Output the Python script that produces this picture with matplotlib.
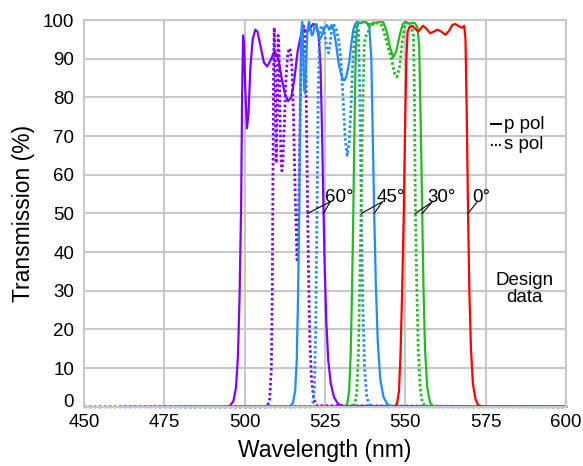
import numpy as np
import matplotlib
matplotlib.use("Agg")
import matplotlib.pyplot as plt

plt.rcParams['font.family'] = ['Liberation Sans', 'DejaVu Sans']

# angle of incidence 60 deg
wl_60p = [462, 494, 495.5, 496.5, 497.3, 497.9, 498.4, 498.9, 499.2, 499.5, 499.8, 500.2, 500.7,
          501.2, 501.8, 502.5, 503.3, 504.0, 505.0, 506.0, 507.0, 508.0, 509.3, 510.5, 511.5,
          512.5, 513.5, 514.5, 515.5, 516.5, 517.5, 518.5, 519.5, 520.5, 521.3, 522.2, 523.0,
          523.6, 524.1, 524.5, 524.9, 525.4, 526.0, 526.8, 527.8, 529.0, 530.5, 600]
t_60p = [0, 0, 0.3, 1.5, 5, 13, 28, 52, 80, 96, 94, 82, 72,
         76, 88, 95, 97.5, 97, 93, 89, 88, 89.5, 92, 90, 85,
         81, 79, 80, 85, 92, 96, 97.5, 97, 98, 99, 98.5, 96,
         88, 70, 52, 36, 22, 12, 6, 2.5, 0.8, 0.2, 0]

wl_60s = [450, 507.0, 507.8, 508.3, 508.6, 508.8, 509.0, 509.2, 509.5, 509.8, 510.1, 510.4, 510.7,
          511.0, 511.3, 511.6, 511.9, 512.3, 512.8, 513.4, 514.1, 514.7, 515.2, 515.7, 516.3,
          516.8, 517.3, 517.8, 518.3, 518.7, 519.0, 519.3, 519.6, 519.9, 520.3, 520.8, 521.5,
          522.5, 600]
t_60s = [0, 0, 2, 10, 30, 60, 88, 98, 85, 63, 75, 96, 92,
         76, 64, 61, 64, 72, 84, 91.5, 92.7, 88, 75, 55, 38,
         50, 78, 95, 98.5, 97, 90, 70, 50, 33, 17, 7, 2,
         0.3, 0]

# 45 deg
wl_45p = [473.5, 514.0, 515.0, 515.7, 516.2, 516.6, 517.0, 517.3, 517.6, 517.9, 518.2, 518.5, 518.8,
          519.1, 519.5, 520.0, 520.4, 520.9, 521.3, 521.8, 522.3, 522.8, 523.4, 524.0, 524.8,
          525.6, 526.3, 527.0, 527.7, 528.4, 529.2, 530.0, 530.6, 531.2, 531.8, 532.5, 533.2,
          533.8, 534.4, 535.0, 536.0, 537.0, 538.0, 538.8, 539.4, 539.9, 540.3, 540.8, 541.4,
          542.2, 543.2, 544.5, 546.0, 600]
t_45p = [0, 0, 1, 4, 12, 28, 52, 80, 97, 99.6, 93, 82, 81,
         88, 97, 99.6, 98, 96, 96.5, 98.5, 99, 97, 95, 96, 98,
         98.7, 97.5, 98.7, 97.5, 94, 89, 86, 84.5, 84.5, 86, 89, 94,
         97.5, 99, 99.5, 99.2, 99.5, 99.3, 98, 90, 68, 50, 32, 17,
         7, 2.5, 0.6, 0, 0]

wl_45s = [473.5, 520.5, 521.2, 521.7, 522.1, 522.5, 522.9, 523.3, 523.8, 524.4, 525.0, 525.6, 526.1,
          526.6, 527.2, 527.8, 528.5, 529.2, 529.9, 530.6, 531.3, 531.9, 532.5, 533.1, 533.7,
          534.3, 534.9, 535.4, 535.8, 536.1, 536.4, 536.8, 537.3, 538.0, 538.8, 540.0, 600]
t_45s = [0, 0, 1, 5, 20, 50, 82, 96, 98.5, 98, 96, 92.5, 91.5,
         94, 98.5, 98.7, 97.5, 95, 90, 80, 69, 65, 68, 78, 90,
         97, 99, 97.5, 82, 62, 44, 25, 10, 2.5, 0.5, 0, 0]

# 30 deg
wl_30p = [481, 531.0, 531.9, 532.5, 533.0, 533.4, 533.8, 534.2, 534.6, 535.0, 535.5, 536.5, 537.2,
          538.0, 539.0, 540.0, 541.0, 542.0, 543.1, 544.2, 545.2, 546.2, 547.2, 548.2, 549.2,
          550.0, 551.2, 552.0, 553.0, 553.8, 554.3, 554.8, 555.2, 555.6, 556.1, 556.8, 557.7,
          559.0, 600]
t_30p = [0, 0, 0.8, 4, 14, 30, 50, 75, 93, 98.5, 99.3, 99.3, 99.8,
         99.3, 98.8, 99.3, 99.3, 99.6, 99.5, 97, 93, 90.3, 92, 96, 99,
         99.6, 99, 99.3, 99.2, 98, 93, 72, 52, 32, 15, 5, 1,
         0, 0]

wl_30s = [481, 533.5, 534.3, 534.9, 535.4, 535.8, 536.2, 536.6, 537.2, 537.8, 538.3, 538.9, 539.5,
          540.5, 541.5, 542.5, 543.3, 544.6, 545.9, 546.7, 547.4, 548.2, 549.0, 549.8, 550.4,
          551.2, 551.9, 552.5, 552.8, 553.1, 553.5, 554.0, 554.6, 555.3, 556.5, 600]
t_30s = [0, 0, 0.8, 4, 14, 32, 50, 72, 94, 96, 96.5, 98.5, 99,
         98.7, 99.3, 98.8, 97, 93, 89, 86, 85.3, 88, 94, 98.5, 99.3,
         98.5, 98.3, 96, 82, 52, 33, 15, 5, 1, 0, 0]

# normal incidence, s and p coincide
wl_0 = [495.5, 546.5, 547.4, 548.0, 548.5, 549.0, 549.5, 549.9, 550.3, 550.7, 551.2, 552.2, 553.0,
        554.0, 555.0, 555.5, 556.5, 557.7, 558.8, 560.0, 561.2, 562.4, 563.6, 564.6, 565.5,
        566.5, 567.6, 568.3, 568.7, 569.1, 569.5, 569.9, 570.4, 571.0, 571.8, 572.6, 574.0, 600]
t_0 = [0, 0, 0.8, 4, 14, 30, 50, 72, 90, 97, 98, 98.5, 97.8,
       97, 98, 98.5, 97.8, 96.6, 97, 97.5, 97, 96.2, 97.2, 98.7, 99,
       98.5, 98, 98.5, 95, 75, 50, 30, 15, 6, 2, 0.5, 0, 0]

angle_labels = ['60°', '45°', '30°', '0°']
label_x = [525.0, 541.2, 556.75, 570.75]

purple = '#8000ff'
blue = '#1e8cff'
green = '#22bb22'
red = '#ff0000'
dots = (0, (0.9, 0.9))


def falling_half(wl, t):
    # wavelength where the long-wave edge crosses 50 %
    wl = np.asarray(wl, float)
    t = np.asarray(t, float)
    i = np.where((t[:-1] >= 50) & (t[1:] < 50))[0][-1]
    return wl[i] + (t[i] - 50) / (t[i] - t[i + 1]) * (wl[i + 1] - wl[i])


fig = plt.figure(figsize=(5.83, 4.66), dpi=100)
ax = fig.add_axes([0.144, 0.127, 0.827, 0.830])

lw = 1.6
lwd = 2.0
ax.plot(wl_60p, t_60p, color=purple, lw=lw, clip_on=False)
ax.plot(wl_60s, t_60s, color=purple, lw=lwd, ls=dots, clip_on=False)
ax.plot(wl_45s, t_45s, color=blue, lw=lwd, ls=dots, clip_on=False)
ax.plot(wl_45p, t_45p, color=blue, lw=lw, clip_on=False)
ax.plot(wl_30s, t_30s, color=green, lw=lwd, ls=dots, clip_on=False)
ax.plot(wl_30p, t_30p, color=green, lw=lw, clip_on=False)
ax.plot(wl_0, t_0, color=red, lw=lw, clip_on=False)

# angle labels with leaders to the 50 % points
targets = [
    [falling_half(wl_60s, t_60s), falling_half(wl_60p, t_60p)],
    [falling_half(wl_45s, t_45s), falling_half(wl_45p, t_45p)],
    [falling_half(wl_30s, t_30s), falling_half(wl_30p, t_30p)],
    [falling_half(wl_0, t_0)],
]
for lab, lx, ends in zip(angle_labels, label_x, targets):
    ax.text(lx, 52.9, lab, fontsize=13.5, ha='left', va='baseline', zorder=5)
    for xe in ends:
        ax.plot([lx + 1.6, xe], [53.0, 50], color='black', lw=0.8, zorder=5)

ax.set_xlim(450, 600)
ax.set_ylim(0, 100)
ax.set_xticks(np.arange(450, 601, 25))
ax.set_yticks(np.arange(0, 101, 10))
ax.grid(True, color='#c8c8c8', lw=1.5)
ax.set_axisbelow(True)
ax.tick_params(length=0, labelsize=13.5, colors='black')
ax.tick_params(axis='x', pad=5)
ax.tick_params(axis='y', pad=7)
for s in ax.spines.values():
    s.set_color('#c8c8c8')
    s.set_linewidth(1.5)

# lift the "0" so it clears the 450 below it
ax.get_yticklabels()[0].set_verticalalignment('baseline')

ax.set_xlabel('Wavelength (nm)', fontsize=16.5, labelpad=6)
ax.set_ylabel('Transmission (%)', fontsize=16.5, labelpad=6)

# polarisation key
tr = ax.transAxes
ax.plot([0.844, 0.866], [0.731, 0.731], color='black', lw=1.4, transform=tr, clip_on=False)
ax.plot([0.844, 0.866], [0.678, 0.678], color='black', lw=1.6, ls=(0, (0.8, 1.0)), transform=tr, clip_on=False)
ax.text(0.871, 0.731, 'p pol', transform=tr, fontsize=13.5, va='center', ha='left')
ax.text(0.871, 0.678, 's pol', transform=tr, fontsize=13.5, va='center', ha='left')

ax.text(0.913, 0.305, 'Design\ndata', transform=tr, fontsize=13.5,
        ha='center', va='center', linespacing=1.0)

fig.savefig('out.png', dpi=100)
